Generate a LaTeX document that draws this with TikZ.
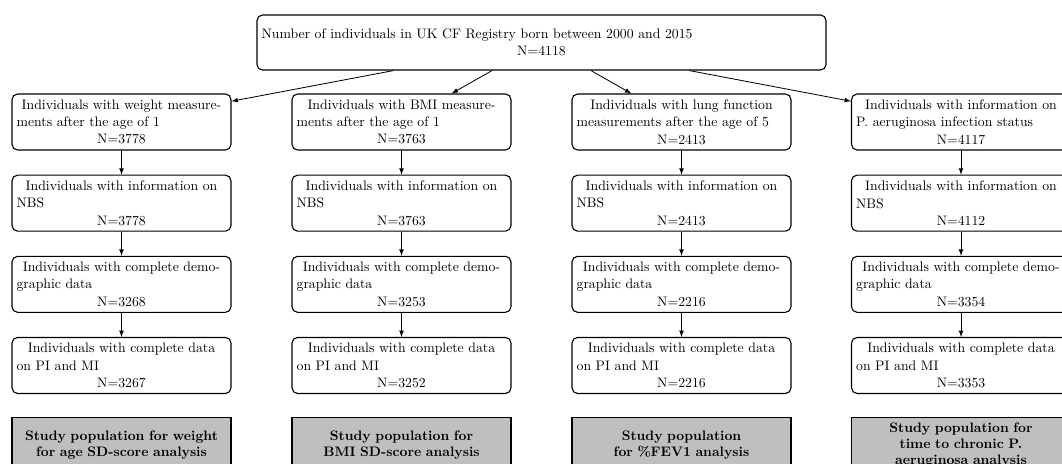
\documentclass[tikz,border=0pt]{standalone}
\usetikzlibrary{positioning}

\newcommand{\stagetext}[3]{#1\\\makebox[\hsize][l]{#2}\\N=#3}

\begin{document}
\begin{tikzpicture}[
          x=0.727pt, y=-0.727pt,
          node distance=17.5pt,
          >=latex,
          stage/.style={rectangle, rounded corners=4pt, draw, thick, text width=152.5pt, minimum height=40.7pt, align=center, font=\fontsize{10}{12.6}\selectfont},
          result/.style={rectangle, draw, thick, fill=gray!50, text width=152.5pt, minimum height=40.7pt, align=center, font=\fontsize{10}{11.8}\selectfont\bfseries}
        ]
        \useasboundingbox (0,0) rectangle (1062,463);
        \node[stage, text width=407pt, minimum height=40pt] (reg) at (541.5,42.5)
          {\makebox[\hsize][l]{Number of individuals in UK CF Registry born between 2000 and 2015}\\N=4118};
        \node[stage] (a1) at (121.5,122) {\stagetext{Individuals with weight measure-}{ments after the age of 1}{3778}};
        \node[stage] (a2) at (401.5,122) {\stagetext{Individuals with BMI measure-}{ments after the age of 1}{3763}};
        \node[stage] (a3) at (681.5,122) {\stagetext{Individuals with lung function}{measurements after the age of 5}{2413}};
        \node[stage] (a4) at (961,122) {\stagetext{Individuals with information on}{P. aeruginosa infection status}{4117}};
        \foreach\i/\nb/\nc/\nd in {1/3778/3268/3267, 2/3763/3253/3252, 3/2413/2216/2216, 4/4112/3354/3353}{
          \node[stage, below=of a\i] (b\i) {\stagetext{Individuals with information on}{NBS}{\nb}};
          \node[stage, below=of b\i] (c\i) {\stagetext{Individuals with complete demo-}{graphic data}{\nc}};
          \node[stage, below=of c\i] (d\i) {\stagetext{Individuals with complete data}{on PI and MI}{\nd}};
          \draw[->, semithick] (reg) -- (a\i);
          \draw[->, semithick] (a\i) -- (b\i);
          \draw[->, semithick] (b\i) -- (c\i);
          \draw[->, semithick] (c\i) -- (d\i);
        }
        % study populations, cut off at the bottom edge
        \node[result, below=16.5pt of d1] (s1) {Study population for weight\\for age SD-score analysis};
        \node[result, below=16.5pt of d2] (s2) {Study population for\\BMI SD-score analysis};
        \node[result, below=16.5pt of d3] (s3) {Study population\\for \%FEV1 analysis};
        \node[result, below=16.5pt of d4] (s4) {Study population for\\time to chronic P.\\aeruginosa analysis};
      \end{tikzpicture}
\end{document}
